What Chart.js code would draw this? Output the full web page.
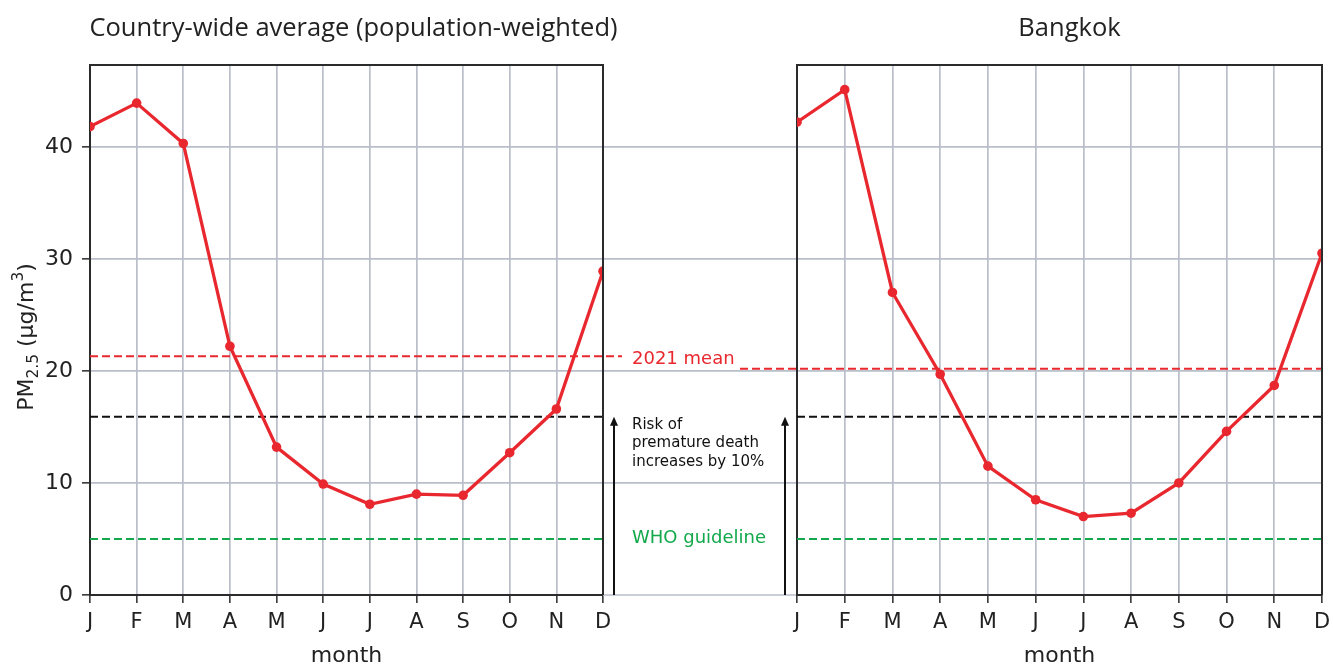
<!DOCTYPE html>
<html>
<head>
<meta charset="utf-8">
<script src="https://cdn.jsdelivr.net/npm/chart.js@4"></script>
<style>
  body { margin: 0; width: 1333px; height: 666px; background: #fff; position: relative; overflow: hidden; }
  canvas { position: absolute; top: 0; }
  #left-chart { left: 0; }
  #right-chart { left: 730px; }
</style>
</head>
<body>
<canvas id="left-chart" width="800" height="666"></canvas>
<canvas id="right-chart" width="603" height="666"></canvas>
<script>
// data
const months = ["J", "F", "M", "A", "M", "J", "J", "A", "S", "O", "N", "D"];
const countryPm25 = [41.8, 43.9, 40.3, 22.2, 13.2, 9.9, 8.1, 9.0, 8.9, 12.7, 16.6, 28.9];
const bangkokPm25 = [42.2, 45.1, 27.0, 19.7, 11.5, 8.5, 7.0, 7.3, 10.0, 14.6, 18.7, 30.5];
const yTicks = [0, 10, 20, 30, 40];
const yMax = 47.3;
const whoGuideline = 5;
const riskLevel = 15.9;
const countryMean2021 = 21.3;
const bangkokMean2021 = 20.2;

// colours
const red = "#e8282e";
const green = "#12a84b";
const dark = "#2b2b2b";
const gridColor = "#b9bec8";
const tickFont = { family: "DejaVu Sans", size: 21 };

function hLine(ctx, x1, x2, y, color, dash) {
  ctx.save();
  ctx.strokeStyle = color;
  ctx.lineWidth = 2;
  ctx.setLineDash(dash || []);
  ctx.beginPath();
  ctx.moveTo(x1, y);
  ctx.lineTo(x2, y);
  ctx.stroke();
  ctx.restore();
}

function arrow(ctx, x, yFrom, yTo) {
  ctx.save();
  ctx.strokeStyle = "#111";
  ctx.fillStyle = "#111";
  ctx.lineWidth = 2;
  ctx.beginPath();
  ctx.moveTo(x, yFrom);
  ctx.lineTo(x, yTo + 6);
  ctx.stroke();
  ctx.beginPath();
  ctx.moveTo(x, yTo);
  ctx.lineTo(x - 4, yTo + 9);
  ctx.lineTo(x + 4, yTo + 9);
  ctx.closePath();
  ctx.fill();
  ctx.restore();
}

function spines(ctx, a) {
  ctx.save();
  ctx.strokeStyle = dark;
  ctx.lineWidth = 2;
  ctx.beginPath();
  ctx.moveTo(a.left, a.top);
  ctx.lineTo(a.right, a.top);
  ctx.lineTo(a.right, a.bottom);
  ctx.stroke();
  ctx.restore();
}

function scalesFor(yWidth, showY) {
  return {
    x: {
      offset: false,
      grid: { offset: false, color: gridColor, lineWidth: 1.7, tickLength: 8, tickColor: dark, tickWidth: 1.5 },
      border: { color: dark, width: 2 },
      ticks: { font: tickFont, color: "#222", padding: 7, maxRotation: 0, autoSkip: false },
      title: { display: true, text: "month", font: { family: "DejaVu Sans", size: 22 }, color: "#222", padding: { top: 0, bottom: -3 } },
      afterFit: (s) => {
        s.height = 71;
        // edge labels may overhang, keep the plot width fixed
        s.paddingLeft = 0;
        s.paddingRight = 0;
      },
    },
    y: {
      min: 0,
      max: yMax,
      afterBuildTicks: (s) => { s.ticks = yTicks.map((v) => ({ value: v })); },
      afterFit: (s) => { s.width = yWidth; },
      grid: { color: gridColor, lineWidth: 1.7, drawTicks: showY, tickLength: 8, tickColor: dark, tickWidth: 1.5 },
      border: { color: dark, width: 2 },
      ticks: { display: showY, font: { family: "DejaVu Sans", size: 22 }, color: "#222", padding: 9 },
    },
  };
}

function lineDataset(values) {
  return {
    data: values,
    borderColor: red,
    backgroundColor: red,
    borderWidth: 3.3,
    pointRadius: 4.8,
    pointBackgroundColor: red,
    pointBorderWidth: 0,
    tension: 0,
    clip: 0,
  };
}

// Left panel: country-wide average
const leftPlugin = {
  id: "leftExtras",
  beforeDatasetsDraw(chart) {
    const ctx = chart.ctx;
    const a = chart.chartArea;
    const y = chart.scales.y;
    // grid lines running through the gap between panels
    yTicks.forEach((v) => {
      ctx.save();
      ctx.strokeStyle = gridColor;
      ctx.lineWidth = 1.7;
      ctx.beginPath();
      ctx.moveTo(a.right, y.getPixelForValue(v));
      ctx.lineTo(797, y.getPixelForValue(v));
      ctx.stroke();
      ctx.restore();
    });
    hLine(ctx, a.left, a.right + 19, y.getPixelForValue(countryMean2021), red, [8, 4]);
    hLine(ctx, a.left, a.right, y.getPixelForValue(riskLevel), "#111", [8, 4]);
    hLine(ctx, a.left, a.right, y.getPixelForValue(whoGuideline), green, [8, 4]);
  },
  afterDatasetsDraw(chart) {
    const ctx = chart.ctx;
    const a = chart.chartArea;
    const y = chart.scales.y;
    spines(ctx, a);
    arrow(ctx, a.right + 11, y.getPixelForValue(0), y.getPixelForValue(riskLevel));

    ctx.save();
    ctx.textAlign = "left";
    ctx.textBaseline = "middle";
    ctx.font = "18px 'DejaVu Sans'";
    ctx.fillStyle = red;
    ctx.fillText("2021 mean", a.right + 29, y.getPixelForValue(countryMean2021) + 3);
    ctx.fillStyle = green;
    ctx.fillText("WHO guideline", a.right + 29, y.getPixelForValue(whoGuideline) - 1);
    ctx.textBaseline = "alphabetic";
    ctx.font = "15px 'DejaVu Sans'";
    ctx.fillStyle = "#111";
    ["Risk of", "premature death", "increases by 10%"].forEach((t, i) => {
      ctx.fillText(t, a.right + 29, 429 + i * 18.3);
    });

    // title
    ctx.font = "25.5px 'Open Sans'";
    ctx.fillStyle = "#222";
    ctx.textAlign = "center";
    ctx.textBaseline = "middle";
    ctx.fillText("Country-wide average (population-weighted)", (a.left + a.right) / 2 + 7, 29);

    // y-axis label with sub/superscript
    const parts = [
      { t: "PM", size: 22, dy: 0 },
      { t: "2.5", size: 15.5, dy: 5 },
      { t: " (\u03bcg/m", size: 22, dy: 0 },
      { t: "3", size: 15.5, dy: -10 },
      { t: ")", size: 22, dy: 0 },
    ];
    let total = 0;
    parts.forEach((p) => {
      ctx.font = p.size + "px 'DejaVu Sans'";
      p.w = ctx.measureText(p.t).width;
      total += p.w;
    });
    ctx.translate(33, 337);
    ctx.rotate(-Math.PI / 2);
    ctx.textAlign = "left";
    ctx.textBaseline = "alphabetic";
    let x = -total / 2;
    parts.forEach((p) => {
      ctx.font = p.size + "px 'DejaVu Sans'";
      ctx.fillText(p.t, x, p.dy);
      x += p.w;
    });
    ctx.restore();
  },
};

new Chart(document.getElementById("left-chart"), {
  type: "line",
  data: { labels: months, datasets: [lineDataset(countryPm25)] },
  options: {
    responsive: false,
    animation: false,
    layout: { padding: { top: 65, right: 197, left: 0, bottom: 0 } },
    plugins: { legend: { display: false }, tooltip: { enabled: false } },
    scales: scalesFor(90, true),
  },
  plugins: [leftPlugin],
});

// Right panel: Bangkok
const rightPlugin = {
  id: "rightExtras",
  beforeDatasetsDraw(chart) {
    const ctx = chart.ctx;
    const a = chart.chartArea;
    const y = chart.scales.y;
    hLine(ctx, a.left - 57, a.right, y.getPixelForValue(bangkokMean2021), red, [8, 4]);
    hLine(ctx, a.left, a.right, y.getPixelForValue(riskLevel), "#111", [8, 4]);
    hLine(ctx, a.left, a.right, y.getPixelForValue(whoGuideline), green, [8, 4]);
  },
  afterDatasetsDraw(chart) {
    const ctx = chart.ctx;
    const a = chart.chartArea;
    const y = chart.scales.y;
    spines(ctx, a);
    arrow(ctx, a.left - 12, y.getPixelForValue(0), y.getPixelForValue(riskLevel));
    ctx.save();
    ctx.font = "25.5px 'Open Sans'";
    ctx.fillStyle = "#222";
    ctx.textAlign = "center";
    ctx.textBaseline = "middle";
    ctx.fillText("Bangkok", (a.left + a.right) / 2 + 10, 29);
    ctx.restore();
  },
};

new Chart(document.getElementById("right-chart"), {
  type: "line",
  data: { labels: months, datasets: [lineDataset(bangkokPm25)] },
  options: {
    responsive: false,
    animation: false,
    layout: { padding: { top: 65, right: 11, left: 0, bottom: 0 } },
    plugins: { legend: { display: false }, tooltip: { enabled: false } },
    scales: scalesFor(67, false),
  },
  plugins: [rightPlugin],
});
</script>
</body>
</html>
